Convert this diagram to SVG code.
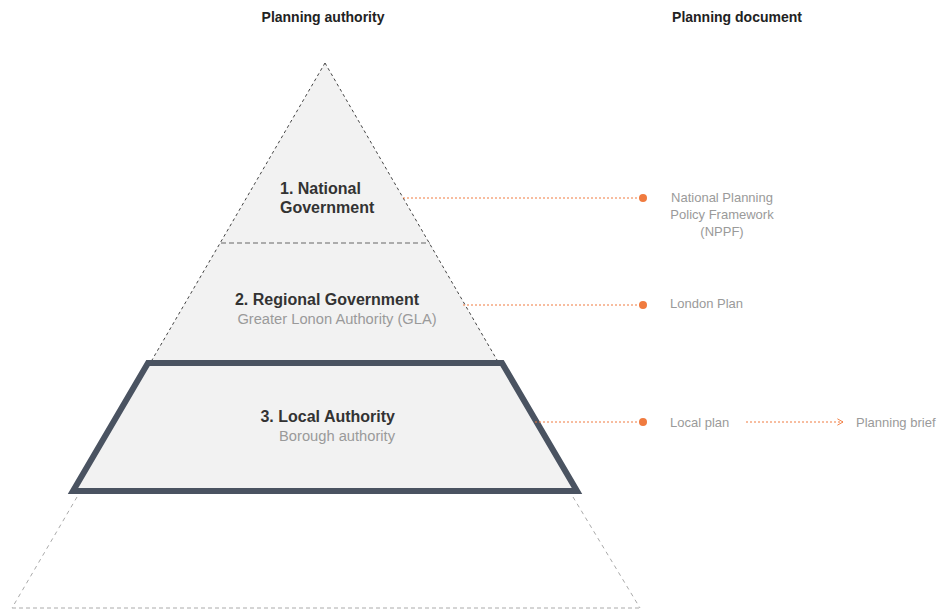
<svg xmlns="http://www.w3.org/2000/svg" width="937" height="612" viewBox="0 0 937 612">
<defs>
<style>
.h{font-family:"Liberation Sans",Arial,sans-serif;font-weight:bold;font-size:14px;fill:#222}
.t{font-family:"Liberation Sans",Arial,sans-serif;font-weight:bold;font-size:16px;fill:#333}
.s{font-family:"Liberation Sans",Arial,sans-serif;font-size:14.7px;fill:#9a9a9a}
.d{font-family:"Liberation Sans",Arial,sans-serif;font-size:13px;fill:#9a9a9a}
.c{stroke:#f07b3f;stroke-width:1;stroke-dasharray:2 2;fill:none}
.dot{fill:#f07b3f}
</style>
<marker id="chev" viewBox="0 0 10 10" refX="9" refY="5" markerWidth="8" markerHeight="8" orient="auto" markerUnits="userSpaceOnUse">
<path d="M2,1 L9,5 L2,9" fill="none" stroke="#f07b3f" stroke-width="1.2"/>
</marker>
</defs>
<rect width="937" height="612" fill="#fff"/>
<text class="h" x="323" y="22" text-anchor="middle">Planning authority</text>
<text class="h" x="737" y="22" text-anchor="middle">Planning document</text>

<g id="pyramid-base">
<polygon points="325,63 497,360 152,360" fill="#f2f2f2"/>
<line x1="325" y1="63" x2="152" y2="360" stroke="#444" stroke-dasharray="3 3"/>
<line x1="325" y1="63" x2="497" y2="360" stroke="#444" stroke-dasharray="3 3"/>
<line x1="77" y1="497" x2="12" y2="608" stroke="#aaa" stroke-dasharray="4 4"/>
<line x1="573" y1="497" x2="640" y2="608" stroke="#aaa" stroke-dasharray="4 4"/>
<line x1="12" y1="608" x2="640" y2="608" stroke="#aaa" stroke-dasharray="4 3"/>
</g>

<g id="national">
<line x1="221" y1="243" x2="430" y2="243" stroke="#666" stroke-dasharray="5 3"/>
<text class="t" x="280" y="194">1. National</text>
<text class="t" x="280" y="213">Government</text>
</g>

<g id="regional">
<text class="t" x="327" y="305" text-anchor="middle" font-size="15.5">2. Regional Government</text>
<text class="s" x="337" y="324" text-anchor="middle">Greater Lonon Authority (GLA)</text>
</g>

<g id="local">
<polygon points="148,363 502,363 577,491 73,491" fill="#f2f2f2" stroke="#4a5361" stroke-width="6" stroke-linejoin="miter"/>
<text class="t" x="395" y="422" text-anchor="end">3. Local Authority</text>
<text class="s" x="395" y="441" text-anchor="end">Borough authority</text>
</g>

<g id="nppf">
<text class="d" x="722" y="202" text-anchor="middle">National  Planning</text>
<text class="d" x="722" y="219" text-anchor="middle">Policy Framework</text>
<text class="d" x="722" y="236" text-anchor="middle">(NPPF)</text>
</g>
<g id="london-plan"><text class="d" x="670" y="308">London Plan</text></g>
<g id="local-plan"><text class="d" x="670" y="427">Local plan</text></g>
<g id="planning-brief"><text class="d" x="856" y="427">Planning brief</text></g>

<g id="connectors">
<line class="c" x1="403" y1="198" x2="643" y2="198"/>
<circle class="dot" cx="643" cy="198" r="4"/>
<line class="c" x1="463" y1="305" x2="643" y2="305"/>
<circle class="dot" cx="643" cy="305" r="4"/>
<line class="c" x1="535" y1="422" x2="643" y2="422"/>
<circle class="dot" cx="643" cy="422" r="4"/>
<line class="c" x1="746" y1="422" x2="843" y2="422" marker-end="url(#chev)"/>
</g>
</svg>
